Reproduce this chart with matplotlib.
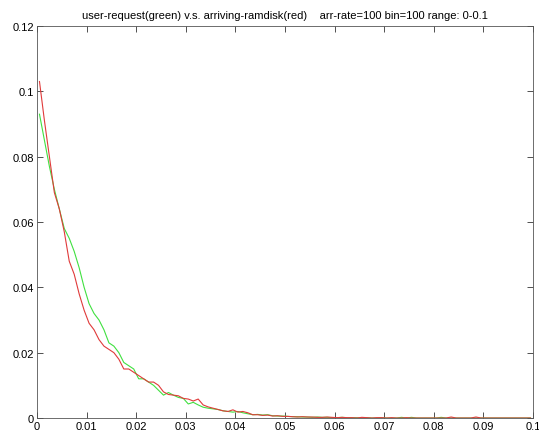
import numpy as np
import matplotlib
matplotlib.use('Agg')
import matplotlib.pyplot as plt

plt.rcParams['font.family'] = ['Liberation Sans', 'DejaVu Sans']

# histogram bin centres, 100 bins over 0-0.1
bins = np.arange(100) * 0.001 + 0.0005

# arriving-ramdisk (red)
ramdisk = [
    0.103, 0.091, 0.080, 0.069, 0.064, 0.057, 0.048, 0.044, 0.038, 0.033,
    0.029, 0.027, 0.024, 0.022, 0.021, 0.020, 0.018, 0.015, 0.015, 0.014,
    0.013, 0.012, 0.011, 0.011, 0.010, 0.008, 0.0072, 0.007, 0.0068, 0.006,
    0.0058, 0.0052, 0.0058, 0.0040, 0.0034, 0.0030, 0.0026, 0.0022, 0.0020, 0.0025,
    0.0018, 0.0020, 0.0016, 0.0010, 0.0010, 0.0008, 0.0009, 0.0006, 0.0007, 0.0005,
    0.0005, 0.0004, 0.0003, 0.0004, 0.0003, 0.0003, 0.0002, 0.0002, 0.0003, 0.0002,
    0.0001, 0.0002, 0.0001, 0.0001, 0.0, 0.0002, 0.0001, 0.0, 0.0001, 0.0001,
    0.0, 0.0001, 0.0, 0.0, 0.0001, 0.0, 0.0, 0.0, 0.0, 0.0,
    0.0, 0.0, 0.0, 0.0003, 0.0, 0.0, 0.0, 0.0, 0.0003, 0.0,
    0.0, 0.0, 0.0, 0.0, 0.0, 0.0, 0.0, 0.0, 0.0, 0.0,
]

# user-request (green)
request = [
    0.093, 0.085, 0.077, 0.070, 0.064, 0.058, 0.055, 0.051, 0.046, 0.040,
    0.035, 0.032, 0.030, 0.027, 0.023, 0.022, 0.020, 0.017, 0.016, 0.015,
    0.012, 0.012, 0.011, 0.010, 0.0085, 0.0070, 0.0078, 0.0070, 0.0063, 0.0060,
    0.0043, 0.0048, 0.0040, 0.0033, 0.0030, 0.0028, 0.0026, 0.0022, 0.0020, 0.0018,
    0.0020, 0.0016, 0.0013, 0.0010, 0.0011, 0.0009, 0.0010, 0.0007, 0.0006, 0.0006,
    0.0005, 0.0004, 0.0004, 0.0003, 0.0003, 0.0002, 0.0003, 0.0002, 0.0002, 0.0001,
    0.0001, 0.0002, 0.0001, 0.0001, 0.0001, 0.0, 0.0001, 0.0, 0.0, 0.0001,
    0.0, 0.0, 0.0, 0.0002, 0.0, 0.0002, 0.0, 0.0, 0.0, 0.0,
    0.0, 0.0002, 0.0, 0.0, 0.0, 0.0, 0.0, 0.0, 0.0, 0.0,
    0.0, 0.0, 0.0, 0.0, 0.0, 0.0, 0.0, 0.0, 0.0, 0.0,
]

xticks = np.arange(0, 0.1001, 0.01)
xlabels = ['0', '0.01', '0.02', '0.03', '0.04', '0.05', '0.06', '0.07', '0.08', '0.09', '0.1']
yticks = np.arange(0, 0.1201, 0.02)
ylabels = ['0', '0.02', '0.04', '0.06', '0.08', '0.1', '0.12']

fig = plt.figure(figsize=(5.39, 4.31), dpi=100)
ax = fig.add_axes([37 / 539, 12 / 431, 496 / 539, 392 / 431])

ax.plot(bins, request, color='#40e040', lw=0.8)
ax.plot(bins, ramdisk, color='#e03a3a', lw=0.8)

ax.set_xlim(0, 0.1)
ax.set_ylim(0, 0.12)
ax.set_xticks(xticks)
ax.set_xticklabels(xlabels)
ax.set_yticks(yticks)
ax.set_yticklabels(ylabels)
ax.tick_params(direction='in', length=4, width=0.6, labelsize=8,
               top=True, right=True, pad=2, colors='#333333', labelcolor='black')
for s in ax.spines.values():
    s.set_linewidth(0.6)
    s.set_color('#555555')

ax.set_title('user-request(green) v.s. arriving-ramdisk(red)    arr-rate=100 bin=100 range: 0-0.1',
             fontsize=8, pad=6)

fig.savefig('out.png', dpi=100, facecolor='white')
